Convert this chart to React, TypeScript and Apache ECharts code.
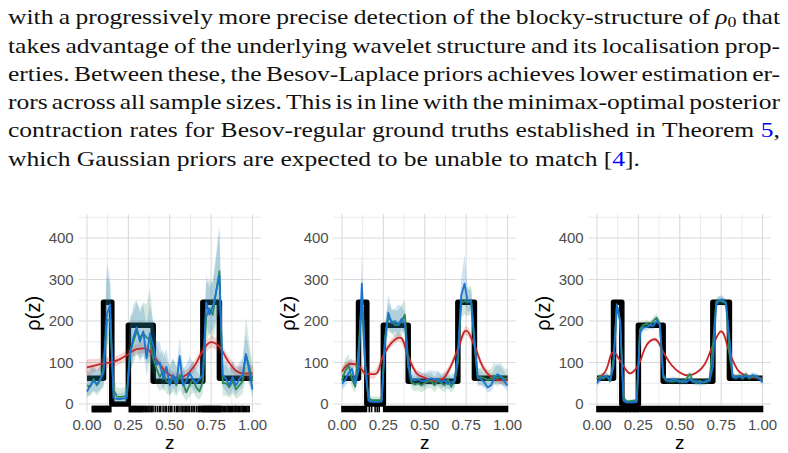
import React, { useEffect, useRef } from "react";
import * as echarts from "echarts";

const WIDTH = 788;
const HEIGHT = 453;

// ---------- paragraph ----------
const TEXT_LINES = [
  "with a progressively more precise detection of the blocky-structure of ρ0 that",
  "takes advantage of the underlying wavelet structure and its localisation prop-",
  "erties. Between these, the Besov-Laplace priors achieves lower estimation er-",
  "rors across all sample sizes. This is in line with the minimax-optimal posterior",
  "contraction rates for Besov-regular ground truths established in Theorem 5,",
  "which Gaussian priors are expected to be unable to match [4].",
];
const TEXT_LEFT = 8;
const TEXT_RIGHT = 780;
const LAST_LINE_RIGHT = 640;
const TEXT_BASELINE0 = 23.5;
const TEXT_LEADING = 28.3;
const TEXT_SIZE = 22;
const SUB_RATIO = 0.7;
const SUB_DROP = 0.15;
const TEXT_COLOR = "#111";
const LINK_BLUE = "#0000ff";
const SERIF = '"Liberation Serif", "Times New Roman", serif';
const SANS = '"Liberation Sans", Arial, sans-serif';

// ---------- axes ----------
const X_MIN = -0.05;
const X_MAX = 1.05;
const Y_MIN = -20;
const Y_MAX = 457;
const X_MAJOR = [0, 0.25, 0.5, 0.75, 1];
const X_MINOR = [0.125, 0.375, 0.625, 0.875];
const Y_MAJOR = [0, 100, 200, 300, 400];
const Y_MINOR = [50, 150, 250, 350, 450];

const PANEL_LEFTS = [78.7, 333.7, 588.7];
const PANEL_TOP = 214.3;
const PANEL_W = 182.1;
const PANEL_H = 198;

// ---------- data ----------
// evaluation grid of the posterior summaries
const Z = [0, 0.02, 0.04, 0.06, 0.08, 0.1, 0.12, 0.14, 0.16, 0.18, 0.2, 0.22, 0.24, 0.26, 0.28, 0.3, 0.32, 0.34, 0.36, 0.38, 0.4, 0.42, 0.44, 0.46, 0.48, 0.5, 0.52, 0.54, 0.56, 0.58, 0.6, 0.62, 0.64, 0.66, 0.68, 0.7, 0.72, 0.74, 0.76, 0.78, 0.8, 0.82, 0.84, 0.86, 0.88, 0.9, 0.92, 0.94, 0.96, 0.98, 1];
const Z_GP = [0, 0.05, 0.1, 0.15, 0.2, 0.25, 0.3, 0.35, 0.4, 0.45, 0.5, 0.55, 0.6, 0.65, 0.7, 0.75, 0.8, 0.85, 0.9, 0.95, 1];

// ground truth rho_0 (piecewise constant)
const TRUTH_Z = [0, 0.1, 0.15, 0.25, 0.4, 0.7, 0.8, 1];
const TRUTH_V = [62, 245, 0, 190, 55, 245, 62, 62];

// panel 1
const BLUE_1 = [30, 45, 55, 48, 60, 75, 215, 240, 15, 12, 12, 13, 14, 120, 160, 185, 150, 175, 110, 170, 140, 95, 100, 60, 90, 45, 70, 50, 115, 45, 55, 75, 60, 50, 60, 70, 245, 215, 235, 270, 310, 70, 60, 45, 65, 45, 60, 70, 120, 80, 35];
const BLUE_1_LO = [15, 25, 32, 28, 35, 40, 150, 180, 3, 3, 3, 3, 4, 70, 110, 135, 100, 125, 65, 115, 90, 55, 60, 30, 55, 20, 40, 25, 70, 22, 30, 45, 35, 25, 35, 40, 190, 165, 180, 200, 230, 40, 30, 20, 35, 20, 35, 40, 75, 45, 15];
const BLUE_1_HI = [60, 95, 85, 80, 90, 130, 340, 300, 40, 28, 26, 28, 35, 200, 240, 250, 220, 240, 190, 240, 200, 150, 150, 110, 135, 85, 110, 90, 160, 85, 95, 115, 100, 90, 100, 120, 310, 280, 300, 360, 430, 110, 100, 85, 105, 85, 100, 110, 170, 125, 70];
const GREEN_1 = [45, 42, 60, 45, 57, 85, 200, 205, 35, 18, 17, 18, 20, 125, 150, 175, 160, 170, 160, 155, 110, 85, 65, 80, 55, 50, 65, 45, 70, 50, 28, 45, 60, 40, 30, 55, 210, 230, 215, 270, 320, 50, 50, 40, 55, 35, 45, 55, 120, 90, 55];
const GREEN_1_LO = [20, 18, 30, 20, 30, 45, 140, 150, 12, 5, 5, 5, 6, 75, 100, 120, 110, 115, 100, 100, 65, 45, 30, 40, 25, 20, 30, 18, 35, 20, 8, 18, 28, 15, 10, 25, 150, 170, 155, 190, 240, 20, 20, 15, 25, 12, 18, 25, 70, 50, 25];
const GREEN_1_HI = [80, 75, 95, 80, 95, 140, 310, 290, 70, 40, 38, 40, 45, 210, 220, 245, 230, 245, 240, 280, 190, 150, 120, 130, 105, 95, 110, 90, 120, 95, 65, 90, 105, 80, 70, 100, 290, 300, 290, 350, 420, 95, 95, 80, 100, 75, 90, 100, 210, 150, 100];
const RED_1 = [88, 93, 98, 101, 108, 120, 132, 134, 117, 90, 70, 63, 70, 92, 128, 149, 138, 105, 80, 73, 75];
const RED_1_LO = [68, 78, 85, 89, 96, 107, 119, 121, 104, 78, 58, 50, 57, 79, 114, 135, 124, 92, 66, 58, 56];
const RED_1_HI = [106, 108, 111, 113, 120, 133, 145, 147, 130, 102, 82, 76, 83, 105, 142, 163, 152, 118, 94, 88, 94];
const RUG_1 = [0.032, 0.036, 0.041, 0.045, 0.048, 0.053, 0.057, 0.062, 0.066, 0.071, 0.074, 0.079, 0.083, 0.088, 0.092, 0.097, 0.101, 0.106, 0.11, 0.114, 0.118, 0.122, 0.127, 0.131, 0.136, 0.14, 0.144,
  0.256, 0.26, 0.265, 0.268, 0.273, 0.278, 0.282, 0.287, 0.291, 0.296, 0.3, 0.305, 0.31, 0.314, 0.319, 0.323, 0.328, 0.334, 0.339, 0.344, 0.35, 0.355, 0.361, 0.368, 0.374, 0.381, 0.388, 0.393, 0.399,
  0.412, 0.425, 0.437, 0.446, 0.46, 0.472, 0.481, 0.494, 0.505, 0.513, 0.528, 0.54, 0.547, 0.556, 0.568, 0.577, 0.586, 0.594, 0.603, 0.611, 0.62, 0.632, 0.641, 0.65, 0.662,
  0.672, 0.678, 0.683, 0.689, 0.694, 0.699, 0.704, 0.708, 0.712, 0.716, 0.72, 0.724, 0.728, 0.732, 0.736, 0.74, 0.744, 0.748, 0.752, 0.756, 0.76, 0.764, 0.768, 0.772, 0.776, 0.78, 0.784, 0.788, 0.792, 0.796, 0.8, 0.805, 0.81, 0.816,
  0.824, 0.832, 0.838, 0.846, 0.853, 0.86, 0.866, 0.873, 0.88, 0.888, 0.895, 0.9, 0.907, 0.915, 0.922, 0.93, 0.937, 0.944, 0.95, 0.958, 0.965, 0.973, 0.98];

// panel 2
const BLUE_2 = [49, 58, 75, 85, 50, 80, 290, 100, 8, 5, 5, 5, 6, 150, 220, 195, 200, 190, 205, 192, 90, 60, 57, 60, 55, 55, 60, 62, 58, 60, 52, 58, 48, 52, 56, 120, 260, 290, 245, 250, 150, 66, 60, 52, 40, 45, 62, 72, 65, 55, 44];
const BLUE_2_LO = [35, 42, 55, 65, 35, 55, 230, 60, 2, 1, 1, 1, 2, 115, 185, 170, 175, 165, 180, 168, 60, 45, 42, 45, 40, 40, 45, 46, 42, 45, 38, 42, 34, 38, 40, 90, 225, 245, 220, 225, 115, 48, 45, 38, 28, 30, 45, 52, 48, 40, 30];
const BLUE_2_HI = [70, 80, 100, 110, 75, 110, 360, 150, 20, 12, 12, 12, 15, 190, 265, 225, 230, 240, 235, 222, 120, 80, 75, 80, 75, 75, 80, 82, 78, 80, 72, 78, 68, 72, 76, 150, 300, 360, 275, 275, 185, 88, 80, 72, 62, 65, 85, 100, 90, 78, 65];
const GREEN_2 = [57, 80, 93, 60, 42, 130, 250, 90, 15, 9, 9, 9, 10, 160, 210, 200, 190, 190, 200, 215, 100, 53, 47, 50, 45, 50, 55, 55, 45, 58, 50, 45, 60, 42, 55, 100, 245, 248, 245, 248, 150, 62, 65, 62, 58, 60, 68, 62, 68, 60, 62];
const GREEN_2_LO = [38, 55, 68, 40, 25, 95, 200, 55, 5, 3, 3, 3, 4, 120, 175, 170, 160, 160, 165, 180, 70, 36, 30, 33, 28, 33, 38, 38, 28, 40, 33, 28, 42, 26, 38, 70, 210, 215, 212, 215, 110, 42, 45, 42, 40, 42, 48, 42, 48, 42, 42];
const GREEN_2_HI = [80, 110, 120, 85, 62, 165, 300, 130, 30, 18, 18, 18, 20, 200, 245, 230, 225, 225, 240, 250, 130, 72, 66, 70, 64, 70, 75, 75, 65, 78, 70, 65, 82, 62, 75, 130, 280, 285, 280, 285, 190, 85, 88, 85, 80, 85, 100, 90, 100, 85, 85];
const RED_2 = [78, 97, 92, 72, 72, 117, 148, 160, 115, 74, 63, 55, 58, 85, 132, 177, 141, 90, 65, 57, 57];
const RED_2_LO = [68, 87, 82, 63, 63, 107, 138, 150, 105, 65, 54, 46, 49, 76, 122, 166, 131, 81, 56, 48, 47];
const RED_2_HI = [89, 107, 102, 82, 82, 127, 158, 170, 125, 84, 73, 65, 68, 95, 142, 188, 151, 100, 75, 67, 68];
const RUG_2_SEGMENTS = [[0, 0.075], [0.08, 0.09], [0.095, 0.148], [0.165, 0.165], [0.179, 0.179], [0.2, 0.2], [0.213, 0.213], [0.225, 0.225], [0.252, 1]];

// panel 3
const BLUE_3 = [50, 60, 65, 68, 58, 90, 240, 200, 8, 4, 4, 4, 5, 172, 184, 185, 190, 188, 200, 192, 70, 57, 56, 60, 57, 53, 57, 52, 60, 53, 57, 50, 53, 56, 55, 90, 240, 250, 252, 240, 160, 66, 63, 67, 64, 68, 64, 70, 66, 62, 52];
const BLUE_3_LO = [42, 52, 58, 61, 51, 75, 228, 185, 2, 1, 1, 1, 1, 160, 175, 176, 181, 179, 190, 183, 60, 50, 49, 53, 50, 46, 50, 45, 53, 46, 50, 43, 46, 49, 48, 75, 228, 240, 242, 230, 145, 58, 56, 60, 57, 61, 57, 63, 59, 55, 44];
const BLUE_3_HI = [58, 68, 72, 75, 65, 105, 252, 215, 16, 8, 8, 8, 10, 184, 193, 194, 199, 197, 210, 201, 82, 64, 63, 67, 64, 60, 64, 59, 67, 60, 64, 57, 60, 63, 62, 105, 252, 260, 262, 250, 175, 74, 70, 74, 71, 75, 71, 77, 73, 69, 60];
const GREEN_3 = [60, 67, 62, 68, 55, 110, 236, 200, 15, 6, 7, 8, 9, 180, 190, 193, 190, 200, 208, 192, 65, 57, 55, 54, 57, 56, 52, 60, 72, 56, 50, 56, 52, 53, 60, 140, 246, 250, 246, 244, 120, 65, 66, 68, 62, 72, 62, 66, 68, 62, 60];
const GREEN_3_LO = [52, 59, 54, 60, 47, 95, 224, 185, 8, 2, 3, 4, 5, 168, 181, 184, 181, 191, 198, 183, 55, 50, 48, 47, 50, 49, 45, 53, 64, 49, 43, 49, 45, 46, 53, 125, 234, 240, 236, 234, 105, 58, 59, 61, 55, 64, 55, 59, 61, 55, 52];
const GREEN_3_HI = [69, 76, 71, 77, 64, 125, 248, 215, 24, 10, 11, 12, 13, 192, 199, 202, 199, 210, 218, 201, 75, 64, 62, 61, 64, 63, 59, 67, 80, 63, 57, 63, 59, 60, 67, 155, 258, 260, 256, 254, 135, 72, 73, 75, 69, 80, 69, 73, 75, 69, 68];
const RED_3 = [61, 78, 125, 98, 74, 94, 142, 156, 125, 94, 76, 69, 75, 95, 141, 175, 125, 82, 68, 64, 61];
const RED_3_LO = [58, 75, 121, 95, 71, 91, 138, 152, 121, 91, 73, 66, 72, 92, 137, 171, 121, 79, 65, 61, 58];
const RED_3_HI = [64, 81, 129, 101, 77, 97, 146, 160, 129, 97, 79, 72, 78, 98, 145, 179, 129, 85, 71, 67, 64];
const RUG_3_SEGMENTS = [[0, 0.152], [0.157, 0.172], [0.176, 0.198], [0.202, 0.224], [0.228, 0.243], [0.248, 1]];

// ---------- styling ----------
const BLUE = "#1a74d2";
const GREEN = "#2e8b57";
const RED = "#c62828";
const BLUE_BAND = "rgba(26,116,210,0.2)";
const GREEN_BAND = "rgba(46,139,87,0.2)";
const RED_BAND = "rgba(205,38,38,0.2)";
const GRID_MAJOR = "#dadada";
const GRID_MINOR = "#e4e4e4";
const LABEL_GREY = "#4d4d4d";
const RUG_LEN = 6.5;

type Panel = {
  blue: number[]; blueLo: number[]; blueHi: number[];
  green: number[]; greenLo: number[]; greenHi: number[];
  red: number[]; redLo: number[]; redHi: number[];
  rug: number[][];
};

const PANELS: Panel[] = [
  { blue: BLUE_1, blueLo: BLUE_1_LO, blueHi: BLUE_1_HI, green: GREEN_1, greenLo: GREEN_1_LO, greenHi: GREEN_1_HI, red: RED_1, redLo: RED_1_LO, redHi: RED_1_HI, rug: RUG_1.map((t) => [t, t]) },
  { blue: BLUE_2, blueLo: BLUE_2_LO, blueHi: BLUE_2_HI, green: GREEN_2, greenLo: GREEN_2_LO, greenHi: GREEN_2_HI, red: RED_2, redLo: RED_2_LO, redHi: RED_2_HI, rug: RUG_2_SEGMENTS },
  { blue: BLUE_3, blueLo: BLUE_3_LO, blueHi: BLUE_3_HI, green: GREEN_3, greenLo: GREEN_3_LO, greenHi: GREEN_3_HI, red: RED_3, redLo: RED_3_LO, redHi: RED_3_HI, rug: RUG_3_SEGMENTS },
];

const zip = (xs: number[], ys: number[]) => xs.map((x, i) => [x, ys[i]]);

type GridLine = { v: number; vertical: boolean; major: boolean };
const GRID_LINES: GridLine[] = [
  ...X_MINOR.map((v) => ({ v, vertical: true, major: false })),
  ...Y_MINOR.map((v) => ({ v, vertical: false, major: false })),
  ...X_MAJOR.map((v) => ({ v, vertical: true, major: true })),
  ...Y_MAJOR.map((v) => ({ v, vertical: false, major: true })),
];

function gridSeries(gi: number) {
  return {
    type: "custom",
    xAxisIndex: gi,
    yAxisIndex: gi,
    silent: true,
    clip: false,
    z: 1,
    data: GRID_LINES.map((g) => (g.vertical ? [g.v, 0] : [0, g.v])),
    renderItem: (params: any, api: any) => {
      const g = GRID_LINES[params.dataIndex];
      const p1 = g.vertical ? api.coord([g.v, Y_MIN]) : api.coord([X_MIN, g.v]);
      const p2 = g.vertical ? api.coord([g.v, Y_MAX]) : api.coord([X_MAX, g.v]);
      return {
        type: "line",
        shape: { x1: p1[0], y1: p1[1], x2: p2[0], y2: p2[1] },
        style: { stroke: g.major ? GRID_MAJOR : GRID_MINOR, lineWidth: g.major ? 1.1 : 0.8 },
      };
    },
  };
}

function bandSeries(gi: number, zs: number[], lo: number[], hi: number[], fill: string, z: number, smooth = 0) {
  return {
    type: "custom",
    xAxisIndex: gi,
    yAxisIndex: gi,
    silent: true,
    clip: true,
    z,
    data: [[zs[0], lo[0]]],
    renderItem: (_params: any, api: any) => {
      const pts: number[][] = [];
      for (let i = 0; i < zs.length; i++) pts.push(api.coord([zs[i], hi[i]]));
      for (let i = zs.length - 1; i >= 0; i--) pts.push(api.coord([zs[i], lo[i]]));
      return { type: "polygon", shape: { points: pts, smooth }, style: { fill } };
    },
  };
}

function lineSeries(gi: number, zs: number[], vs: number[], color: string, width: number, z: number, extra: any = {}) {
  return {
    type: "line",
    xAxisIndex: gi,
    yAxisIndex: gi,
    data: zip(zs, vs),
    showSymbol: false,
    symbol: "none",
    silent: true,
    clip: true,
    z,
    lineStyle: { color, width, join: "round", cap: "butt" },
    itemStyle: { color },
    ...extra,
  };
}

function rugSeries(gi: number, segments: number[][]) {
  return {
    type: "custom",
    xAxisIndex: gi,
    yAxisIndex: gi,
    silent: true,
    clip: false,
    z: 7,
    data: segments,
    renderItem: (params: any, api: any) => {
      const [a, b] = segments[params.dataIndex];
      const p1 = api.coord([a, Y_MIN]);
      const p2 = api.coord([b, Y_MIN]);
      return {
        type: "rect",
        shape: { x: p1[0] - 0.8, y: p1[1] - RUG_LEN, width: Math.max(p2[0] - p1[0], 0) + 1.6, height: RUG_LEN },
        style: { fill: "#000" },
      };
    },
  };
}

type Part = { text: string; italic?: boolean; sub?: boolean; color?: string };

function wordParts(w: string): Part[] {
  if (w === "ρ0") return [{ text: "ρ", italic: true }, { text: "0", sub: true }];
  const m = w.match(/^(\[?)(\d+)(\]?[.,]?)$/);
  if (m) {
    const parts: Part[] = [];
    if (m[1]) parts.push({ text: m[1] });
    parts.push({ text: m[2], color: LINK_BLUE });
    if (m[3]) parts.push({ text: m[3] });
    return parts;
  }
  return [{ text: w }];
}

function paragraphElements(): any[] {
  const ctx = document.createElement("canvas").getContext("2d")!;
  const sizeOf = (p: Part) => (p.sub ? TEXT_SIZE * SUB_RATIO : TEXT_SIZE);
  const fontOf = (p: Part) => `${p.italic ? "italic " : ""}${sizeOf(p)}px ${SERIF}`;
  const measure = (p: Part) => {
    ctx.font = fontOf(p);
    return ctx.measureText(p.text).width;
  };
  ctx.font = `${TEXT_SIZE}px ${SERIF}`;
  const space = ctx.measureText(" ").width;
  const lines = TEXT_LINES.map((l) => l.split(" ").map(wordParts));
  const wordWidth = (w: Part[]) => w.reduce((s, p) => s + measure(p), 0);
  const last = lines[lines.length - 1];
  const lastNatural = last.reduce((s, w) => s + wordWidth(w), 0) + space * (last.length - 1);
  const sx = (LAST_LINE_RIGHT - TEXT_LEFT) / lastNatural;

  const els: any[] = [];
  lines.forEach((words, li) => {
    const baseline = TEXT_BASELINE0 + li * TEXT_LEADING;
    const widths = words.map((w) => wordWidth(w) * sx);
    const total = widths.reduce((a, b) => a + b, 0);
    const isLast = li === lines.length - 1;
    const gap = isLast ? space * sx : (TEXT_RIGHT - TEXT_LEFT - total) / (words.length - 1);
    let x = TEXT_LEFT;
    words.forEach((w) => {
      w.forEach((p) => {
        const size = sizeOf(p);
        const base = p.sub ? baseline + TEXT_SIZE * SUB_DROP : baseline;
        els.push({
          type: "text",
          x,
          y: base - size * 0.3,
          scaleX: sx,
          silent: true,
          style: {
            text: p.text,
            fontSize: size,
            fontFamily: SERIF,
            fontStyle: p.italic ? "italic" : "normal",
            fill: p.color || TEXT_COLOR,
            align: "left",
            verticalAlign: "middle",
          },
        });
        x += measure(p) * sx;
      });
      x += gap;
    });
  });
  return els;
}

function buildOption() {
  const grid = PANEL_LEFTS.map((left) => ({
    left, top: PANEL_TOP, width: PANEL_W, height: PANEL_H, containLabel: false, outerBoundsMode: "none",
  }));
  const xAxis = PANEL_LEFTS.map((_, gi) => ({
    type: "value", gridIndex: gi, min: X_MIN, max: X_MAX,
    axisLine: { show: false }, axisTick: { show: false }, splitLine: { show: false },
    axisLabel: {
      customValues: X_MAJOR, formatter: (v: number) => v.toFixed(2),
      color: LABEL_GREY, fontSize: 15, fontFamily: SANS, margin: 5,
    },
  }));
  const yAxis = PANEL_LEFTS.map((_, gi) => ({
    type: "value", gridIndex: gi, min: Y_MIN, max: Y_MAX,
    axisLine: { show: false }, axisTick: { show: false }, splitLine: { show: false },
    axisLabel: {
      customValues: Y_MAJOR, formatter: (v: number) => String(v),
      color: LABEL_GREY, fontSize: 15, fontFamily: SANS, margin: 5,
    },
  }));

  const series: any[] = [];
  PANELS.forEach((p, gi) => {
    series.push(gridSeries(gi));
    series.push(lineSeries(gi, TRUTH_Z, TRUTH_V, "#000", 5.5, 2, { step: "end" }));
    series.push(bandSeries(gi, Z_GP, p.redLo, p.redHi, RED_BAND, 3, 0.3));
    series.push(bandSeries(gi, Z, p.greenLo, p.greenHi, GREEN_BAND, 3));
    series.push(bandSeries(gi, Z, p.blueLo, p.blueHi, BLUE_BAND, 3));
    series.push(lineSeries(gi, Z_GP, p.red, RED, 1.8, 4, { smooth: 0.4 }));
    series.push(lineSeries(gi, Z, p.green, GREEN, 1.8, 5));
    series.push(lineSeries(gi, Z, p.blue, BLUE, 1.8, 6));
    series.push(rugSeries(gi, p.rug));
  });

  const titles: any[] = [];
  PANEL_LEFTS.forEach((left) => {
    titles.push({
      type: "text", x: left + PANEL_W / 2, y: 442, silent: true,
      style: { text: "z", fontSize: 19, fontFamily: SANS, fill: "#000", align: "center", verticalAlign: "middle" },
    });
    titles.push({
      type: "text", x: left - 46, y: PANEL_TOP + PANEL_H / 2, rotation: Math.PI / 2, silent: true,
      style: { text: "ρ(z)", fontSize: 20, fontFamily: SANS, fill: "#000", align: "center", verticalAlign: "middle" },
    });
  });

  return {
    animation: false,
    backgroundColor: "#fff",
    grid,
    xAxis,
    yAxis,
    series,
    graphic: { elements: [...paragraphElements(), ...titles] },
  };
}

export default function App() {
  const ref = useRef<HTMLDivElement>(null);
  useEffect(() => {
    if (!ref.current) return;
    const chart = echarts.init(ref.current, null, { renderer: "svg", width: WIDTH, height: HEIGHT });
    chart.setOption(buildOption() as any);
    return () => chart.dispose();
  }, []);
  return (
    <div
      ref={ref}
      style={{ position: "absolute", left: 0, top: 0, width: WIDTH, height: HEIGHT, background: "#fff" }}
    />
  );
}
